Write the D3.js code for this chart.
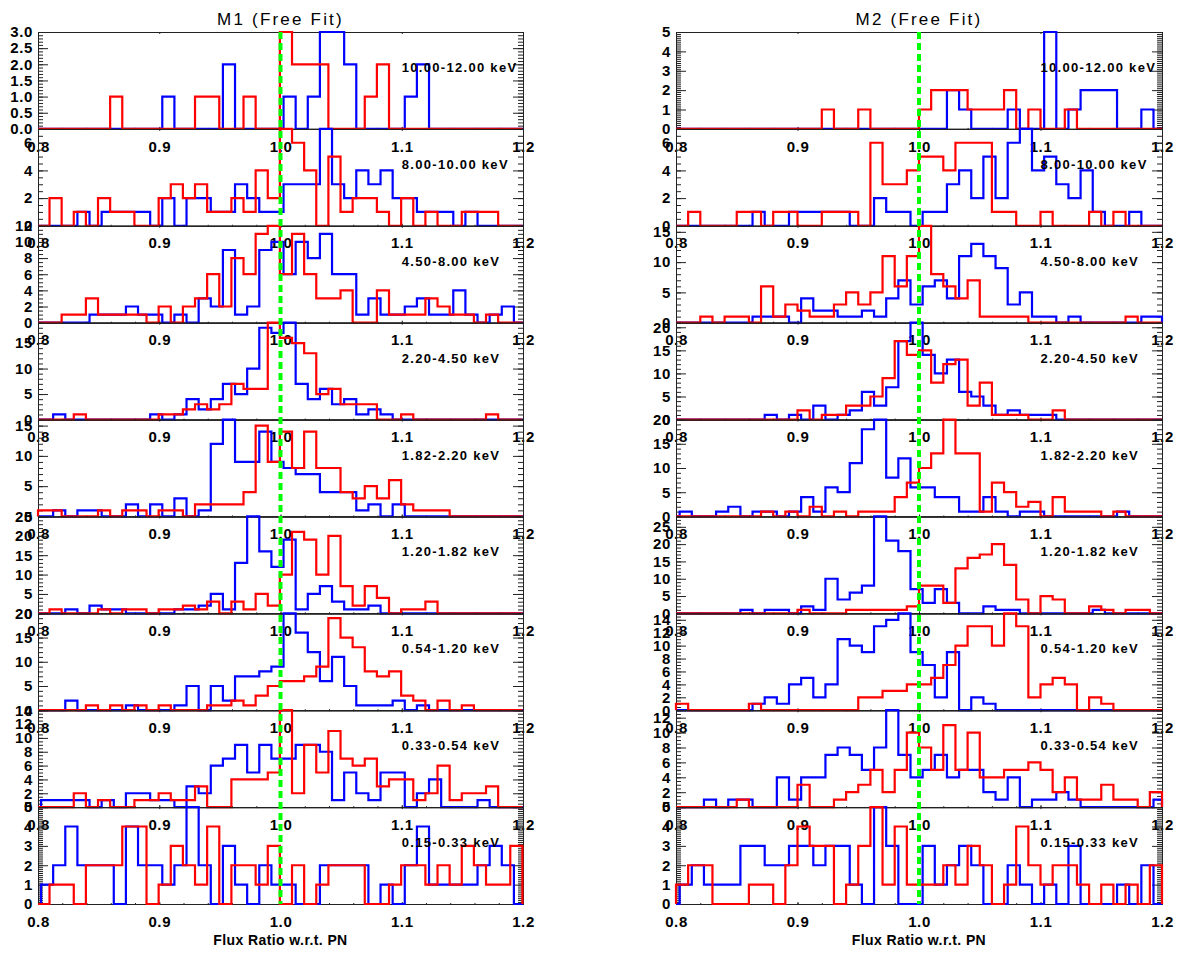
<!DOCTYPE html>
<html>
<head>
<meta charset="utf-8">
<script src="https://cdn.jsdelivr.net/npm/d3@7"></script>
<style>
  body { margin: 0; background: #fff; }
  svg { display: block; }
  text { font-family: "Liberation Sans", Arial, sans-serif; }
</style>
</head>
<body>
<svg id="chart" width="1183" height="953"></svg>
<script>
// energy bands, top panel first
const bands = ["10.00-12.00 keV", "8.00-10.00 keV", "4.50-8.00 keV", "2.20-4.50 keV",
  "1.82-2.20 keV", "1.20-1.82 keV", "0.54-1.20 keV", "0.33-0.54 keV", "0.15-0.33 keV"];
const xTicks = [0.8, 0.9, 1.0, 1.1, 1.2];
const binWidth = 0.01;
// left edge of the first bin of each histogram
const m1BlueStart = 0.8025, m1RedStart = 0.7995;
const m2BlueStart = 0.803, m2RedStart = 0.800;
// y tick step per panel
const m1YStep = [0.5, 2, 2, 5, 5, 5, 5, 2, 1];
const m2YStep = [1, 2, 5, 5, 5, 5, 2, 2, 1];

// counts per 0.01 bin (40 bins), one row per band
const m1Blue = [
  [0,0,0,0,0,0,0,0,0,0, 1,0,0,0,0,2,0,0,0,0, 1,0,1,3,3,2,0,0,0,0, 1,2,0,0,0,0,0,0,0,0],
  [0,0,0,1,0,1,1,1,1,0, 2,0,2,2,1,1,3,2,1,1, 3,3,3,7,3,2,4,3,4,2, 2,1,1,1,0,1,0,0,0,0],
  [0,0,0,0,1,1,1,2,1,1, 0,1,0,3,2,9,1,2,9,10, 6,10,8,11,6,6,1,3,1,1, 2,3,1,1,4,1,0,1,2,0],
  [0,1,0,0,0,0,0,0,0,1, 0,1,4,2,4,7,5,10,18,17, 19,7,4,6,3,4,1,2,1,0, 0,0,0,0,0,0,0,0,0,0],
  [0,1,0,1,1,0,0,2,0,2, 0,3,0,1,12,16,9,9,14,9, 8,7,7,4,4,4,1,2,0,2, 0,0,0,0,0,0,0,0,0,0],
  [0,0,1,0,2,1,1,0,0,0, 0,1,1,2,5,1,13,25,16,12, 19,1,5,7,3,1,1,2,0,0, 0,0,0,0,0,0,0,0,0,0],
  [0,0,2,0,0,0,0,1,0,0, 0,1,5,0,5,2,7,7,8,9, 20,16,12,6,11,5,1,1,1,2, 0,1,0,0,0,0,0,0,0,0],
  [1,1,1,1,0,1,0,2,2,1, 1,0,3,2,6,7,9,5,9,7, 7,9,9,8,1,5,2,1,5,5, 0,2,4,0,0,0,1,0,0,0],
  [1,2,4,2,2,2,0,4,2,2, 1,2,5,2,0,3,1,0,2,1, 1,0,0,2,2,2,2,0,1,0, 2,4,1,1,1,1,2,3,2,0]
];
const m1Red = [
  [0,0,0,0,0,0,1,0,0,0, 0,0,0,1,1,0,0,1,0,0, 3,2,2,2,0,0,0,1,2,0, 0,0,0,0,0,0,0,0,0,0],
  [0,2,0,1,0,2,1,1,0,0, 2,3,2,3,1,1,2,1,4,2, 7,6,4,0,5,1,2,2,1,0, 2,0,1,0,0,1,1,1,0,0],
  [0,0,1,1,3,1,1,1,1,0, 2,0,2,3,6,2,8,6,11,12, 6,11,6,3,3,4,0,0,4,1, 1,1,3,2,1,1,0,1,0,0],
  [0,0,0,1,0,0,0,0,0,0, 1,1,2,3,2,3,7,6,6,19, 16,15,13,5,6,3,3,3,0,0, 1,0,0,0,0,0,0,1,0,0],
  [1,1,0,0,0,1,0,1,1,0, 1,1,0,2,2,2,2,4,15,9, 14,8,14,8,8,4,3,5,3,6, 2,1,1,1,0,0,0,0,0,0],
  [0,1,0,0,0,1,0,1,1,0, 1,1,2,1,3,0,3,1,5,2, 10,21,19,10,20,7,2,7,4,0, 1,1,3,0,0,0,0,0,0,0],
  [0,0,0,0,1,0,1,0,1,0, 1,0,0,0,1,1,2,1,3,5, 6,6,7,9,19,15,13,8,7,8, 3,2,0,2,0,1,0,0,0,0],
  [0,0,0,2,0,1,0,0,1,1, 2,1,1,3,0,0,4,4,4,5, 14,2,9,5,11,7,6,7,3,4, 4,1,2,6,1,2,2,3,0,0],
  [0,1,1,0,2,2,2,4,4,0, 1,3,2,1,4,0,2,2,1,3, 0,2,0,1,2,2,2,0,0,1, 2,2,1,2,1,3,2,1,1,3]
];
const m2Blue = [
  [0,0,0,0,0,0,0,0,0,0, 0,0,0,0,0,0,0,0,0,0, 0,0,2,1,0,0,0,1,0,0, 5,0,1,2,2,2,0,0,1,0],
  [0,0,0,0,0,0,1,0,0,1, 1,1,1,1,0,0,2,1,1,0, 1,1,3,4,2,5,2,6,7,4, 5,3,2,4,1,0,0,1,0,0],
  [0,0,0,0,0,0,1,1,1,0, 4,2,2,1,1,2,1,4,7,3, 6,7,4,11,13,11,9,3,5,1, 1,0,1,0,0,0,0,0,1,1],
  [0,0,0,0,0,0,0,1,0,1, 0,3,0,1,2,6,3,7,17,21, 14,10,13,6,5,3,1,2,1,1, 1,0,0,0,0,0,0,0,0,0],
  [1,0,0,1,2,0,1,1,0,1, 4,1,6,5,11,18,20,8,12,6, 6,4,4,1,1,4,1,0,1,1, 0,0,0,0,0,0,1,0,0,0],
  [0,0,0,0,0,1,0,1,1,0, 2,1,10,4,6,8,28,21,18,7, 3,7,3,0,0,2,1,1,0,0, 0,0,0,0,1,0,0,0,0,0],
  [0,0,0,0,0,0,1,2,1,4, 5,2,4,11,10,9,13,14,15,9, 7,2,9,0,2,1,0,0,0,0, 0,0,0,0,0,0,0,0,0,0],
  [0,0,1,0,1,1,0,0,4,1, 4,4,7,8,7,5,8,13,7,4, 5,7,4,5,5,2,1,4,0,1, 1,2,1,0,0,0,0,0,0,1],
  [1,2,1,1,1,3,3,2,2,3, 3,2,3,3,1,0,5,3,0,0, 3,1,2,3,2,0,0,2,1,0, 1,0,3,0,0,0,1,0,2,0]
];
const m2Red = [
  [0,0,0,0,0,0,0,0,0,0, 0,0,1,0,0,1,0,0,0,0, 1,2,2,2,1,1,1,2,0,1, 0,0,1,0,0,0,0,0,0,0],
  [0,1,0,0,0,1,1,0,1,1, 0,0,1,1,1,0,6,3,3,4, 5,5,4,6,6,6,1,1,0,0, 1,0,0,0,1,0,1,0,0,0],
  [0,0,1,0,1,1,0,6,1,3, 2,1,1,3,5,3,5,11,6,11, 16,8,6,4,7,1,1,1,1,0, 0,0,0,0,0,0,0,1,0,0],
  [0,0,0,0,0,0,0,0,0,0, 2,0,1,1,3,3,5,9,17,14, 15,8,12,13,3,8,1,1,1,0, 0,2,0,0,0,0,0,0,0,0],
  [0,0,0,0,0,0,0,1,0,1, 0,2,0,1,0,1,1,1,4,7, 10,13,20,13,13,1,7,5,2,3, 0,4,1,1,1,0,1,0,0,0],
  [0,0,0,0,0,0,0,0,0,0, 1,0,0,0,1,1,1,1,1,2, 8,8,3,13,16,17,20,14,4,0, 5,4,0,0,2,1,0,1,1,0],
  [1,0,0,0,0,0,1,0,0,0, 0,0,0,0,0,2,2,3,3,4, 4,5,7,10,13,13,10,15,13,2, 4,5,4,0,2,1,0,0,0,0],
  [0,0,0,0,0,1,0,0,0,0, 3,0,0,1,2,3,5,2,5,10, 8,5,11,5,10,4,4,5,5,6, 5,2,4,1,1,3,1,1,0,2],
  [1,2,2,0,0,0,1,1,0,2, 4,3,3,0,1,3,5,1,4,1, 1,1,2,1,3,2,0,1,4,2, 1,2,2,1,0,1,0,1,0,2]
];

const svg = d3.select("#chart");
const plotTop = 32, plotBottom = 904;
const panelH = (plotBottom - plotTop) / bands.length;

const columns = [
  { title: "M1 (Free Fit)", x0: 38, x1: 523, blue: m1Blue, red: m1Red,
    blueStart: m1BlueStart, redStart: m1RedStart, steps: m1YStep },
  { title: "M2 (Free Fit)", x0: 676, x1: 1162, blue: m2Blue, red: m2Red,
    blueStart: m2BlueStart, redStart: m2RedStart, steps: m2YStep }
];

// psym=10 style step outline, clamped to the x range
function stepPoints(counts, start) {
  const pts = [[0.8, 0]];
  let prev = 0;
  counts.forEach((c, k) => {
    const e = start + k * binWidth;
    pts.push([e, prev], [e, c]);
    prev = c;
  });
  const end = start + counts.length * binWidth;
  pts.push([end, prev], [end, 0]);
  return pts.map(([x, y]) => [Math.max(0.8, Math.min(1.2, x)), y]);
}

const xMinor = d3.range(0.8, 1.2001, 0.02);

columns.forEach(col => {
  const x = d3.scaleLinear().domain([0.8, 1.2]).range([col.x0, col.x1]);

  svg.append("text")
    .attr("x", (col.x0 + col.x1) / 2).attr("y", 25)
    .attr("text-anchor", "middle").attr("font-size", 17).attr("letter-spacing", 2.2)
    .text(col.title);

  bands.forEach((band, i) => {
    const top = plotTop + i * panelH, bottom = top + panelH;
    const blue = col.blue[i], red = col.red[i];
    const ymax = d3.max(blue.concat(red));
    const y = d3.scaleLinear().domain([0, ymax]).range([bottom, top]);
    const step = col.steps[i];
    const minorStep = step === 1 ? 0.1 : step === 2 ? 0.5 : step / 5;
    const yTicks = d3.range(0, ymax + 1e-9, step);
    const yMinor = d3.range(0, ymax + 1e-9, minorStep);
    const fmt = step < 1 ? d3.format(".1f") : d3.format("d");

    const g = svg.append("g");

    // minor ticks
    g.append("g").attr("transform", `translate(0,${bottom})`)
      .call(d3.axisBottom(x).tickValues(xMinor).tickSizeInner(-1).tickSizeOuter(0).tickFormat(""));
    g.append("g").attr("transform", `translate(0,${top})`)
      .call(d3.axisTop(x).tickValues(xMinor).tickSizeInner(-1).tickSizeOuter(0).tickFormat(""));
    g.append("g").attr("transform", `translate(${col.x0},0)`)
      .call(d3.axisLeft(y).tickValues(yMinor).tickSizeInner(-5).tickSizeOuter(0).tickFormat(""));
    g.append("g").attr("transform", `translate(${col.x1},0)`)
      .call(d3.axisRight(y).tickValues(yMinor).tickSizeInner(-5).tickSizeOuter(0).tickFormat(""));

    // major ticks and labels
    g.append("g").attr("class", "lab").attr("transform", `translate(0,${bottom})`)
      .call(d3.axisBottom(x).tickValues(xTicks).tickSizeInner(-2).tickSizeOuter(0)
        .tickPadding(12).tickFormat(d3.format(".1f")));
    g.append("g").attr("transform", `translate(0,${top})`)
      .call(d3.axisTop(x).tickValues(xTicks).tickSizeInner(-2).tickSizeOuter(0).tickFormat(""));
    g.append("g").attr("class", "lab").attr("transform", `translate(${col.x0},0)`)
      .call(d3.axisLeft(y).tickValues(yTicks).tickSizeInner(-10).tickSizeOuter(0)
        .tickPadding(5).tickFormat(fmt));
    g.append("g").attr("transform", `translate(${col.x1},0)`)
      .call(d3.axisRight(y).tickValues(yTicks).tickSizeInner(-10).tickSizeOuter(0).tickFormat(""));

    g.selectAll(".domain").attr("stroke", "#222");
    g.selectAll(".tick line").attr("stroke", "#222");
    g.selectAll(".lab text").attr("font-size", 15).attr("font-weight", "bold")
      .attr("letter-spacing", 0.6).attr("fill", "#000")
      .attr("font-family", '"Liberation Sans", Arial, sans-serif');

    const line = d3.line().x(d => x(d[0])).y(d => y(d[1]));
    g.append("path").attr("d", line(stepPoints(blue, col.blueStart)))
      .attr("fill", "none").attr("stroke", "#0000ff").attr("stroke-width", 2.2);
    g.append("path").attr("d", line(stepPoints(red, col.redStart)))
      .attr("fill", "none").attr("stroke", "#ff0000").attr("stroke-width", 2.2);

    g.append("text")
      .attr("x", x(1.1)).attr("y", top + 40)
      .attr("font-size", 13).attr("font-weight", "bold").attr("letter-spacing", 1.3)
      .text(band);
  });

  // reference line at ratio 1
  svg.append("line")
    .attr("x1", x(1.0)).attr("x2", x(1.0))
    .attr("y1", plotTop).attr("y2", plotBottom)
    .attr("stroke", "#00ff00").attr("stroke-width", 4)
    .attr("stroke-dasharray", "7,4");

  svg.append("text")
    .attr("x", (col.x0 + col.x1) / 2).attr("y", 945)
    .attr("text-anchor", "middle").attr("font-size", 14).attr("font-weight", "bold")
    .attr("letter-spacing", 0.4)
    .text("Flux Ratio w.r.t. PN");
});
</script>
</body>
</html>
